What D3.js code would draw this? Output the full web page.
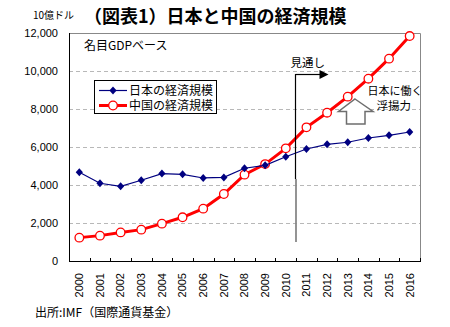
<!DOCTYPE html>
<html>
<head>
<meta charset="utf-8">
<script src="https://cdn.jsdelivr.net/npm/d3@7"></script>
<style>
  html, body { margin: 0; padding: 0; background: #fff; }
  svg { display: block; }
  text { font-family: "Liberation Sans", Arial, sans-serif; }
  .jp { font-family: "Noto Sans CJK JP", sans-serif; }
</style>
</head>
<body>
<svg id="chart" width="450" height="327"></svg>
<script>
// Nominal GDP, billions of US dollars (IMF)
const years = ["2000","2001","2002","2003","2004","2005","2006","2007","2008",
               "2009","2010","2011","2012","2013","2014","2015","2016"];
const japanGdp = [4670, 4090, 3930, 4250, 4600, 4560, 4370, 4400, 4880,
                  5035, 5490, 5895, 6140, 6250, 6475, 6615, 6790];
const chinaGdp = [1230, 1335, 1505, 1650, 1965, 2300, 2755, 3525, 4545,
                  5100, 5930, 7035, 7805, 8650, 9595, 10650, 11840];
const yTicks = [0, 2000, 4000, 6000, 8000, 10000, 12000];
const seriesNames = ["日本の経済規模", "中国の経済規模"];
const lastActual = "2010";

const svg = d3.select("#chart");
const plot = { left: 69, right: 420, top: 33, bottom: 261 };

const x = d3.scaleBand().domain(years).range([plot.left, plot.right]).padding(0);
const y = d3.scaleLinear().domain([0, 12000]).range([plot.bottom, plot.top]);
const cx = d => x(d) + x.bandwidth() / 2;

// horizontal dashed gridlines
svg.append("g").selectAll("line")
  .data(yTicks.filter(v => v > 0 && v < 12000))
  .join("line")
  .attr("x1", plot.left).attr("x2", plot.right)
  .attr("y1", d => y(d) + 0.5).attr("y2", d => y(d) + 0.5)
  .attr("stroke", "#b8b8b8").attr("stroke-dasharray", "4,3");

// top / right frame
svg.append("path")
  .attr("d", `M${plot.left},${plot.top + 0.5}H${plot.right + 0.5}V${plot.bottom}`)
  .attr("fill", "none").attr("stroke", "#888").attr("stroke-width", 1);

// y axis labels
const yAxis = d3.axisLeft(y).tickValues(yTicks).tickSize(0).tickPadding(11)
  .tickFormat(d3.format(","));
const gy = svg.append("g").attr("transform", `translate(${plot.left},0)`).call(yAxis);
gy.select(".domain").remove();
gy.selectAll("text").attr("font-size", 11).attr("fill", "#000")
  .attr("font-family", "Liberation Sans, Arial, sans-serif");

// x axis labels (rotated)
const xAxis = d3.axisBottom(x).tickSize(0);
const gx = svg.append("g").attr("transform", `translate(0,${plot.bottom})`).call(xAxis);
gx.select(".domain").remove();
gx.selectAll("text")
  .attr("font-size", 11).attr("fill", "#000")
  .attr("font-family", "Liberation Sans, Arial, sans-serif")
  .attr("transform", "rotate(-90)")
  .attr("text-anchor", "end")
  .attr("dy", "0.35em")
  .attr("x", -12).attr("y", 0);

// x boundary tick marks (inward)
const bounds = years.map(d => x(d)).concat([plot.right]);
svg.append("g").selectAll("line").data(bounds).join("line")
  .attr("x1", d => Math.round(d) + 0.5).attr("x2", d => Math.round(d) + 0.5)
  .attr("y1", plot.bottom).attr("y2", plot.bottom - 3)
  .attr("stroke", "#000");

// axis lines
svg.append("line").attr("x1", plot.left + 0.5).attr("x2", plot.left + 0.5)
  .attr("y1", plot.top).attr("y2", plot.bottom + 0.5).attr("stroke", "#000");
svg.append("line").attr("x1", plot.left).attr("x2", plot.right + 1)
  .attr("y1", plot.bottom + 0.5).attr("y2", plot.bottom + 0.5).attr("stroke", "#000");

const line = d3.line().x((d, i) => cx(years[i])).y(d => y(d));
const diamond = "M0,-4L3.6,0L0,4L-3.6,0Z";

// China series
svg.append("path").datum(chinaGdp).attr("d", line)
  .attr("fill", "none").attr("stroke", "#ff0000").attr("stroke-width", 3);
svg.append("g").selectAll("circle").data(chinaGdp).join("circle")
  .attr("cx", (d, i) => cx(years[i])).attr("cy", d => y(d)).attr("r", 4.3)
  .attr("fill", "#fff").attr("stroke", "#ff0000").attr("stroke-width", 1.3);

// Japan series
svg.append("path").datum(japanGdp).attr("d", line)
  .attr("fill", "none").attr("stroke", "#000080").attr("stroke-width", 1.2);
svg.append("g").selectAll("path").data(japanGdp).join("path")
  .attr("d", diamond)
  .attr("transform", (d, i) => `translate(${cx(years[i])},${y(d)})`)
  .attr("fill", "#000080");

// legend
const lg = svg.append("g");
lg.append("rect").attr("x", 94.5).attr("y", 80.5).attr("width", 122).attr("height", 33)
  .attr("fill", "#fff").attr("stroke", "#000");
lg.append("line").attr("x1", 99).attr("x2", 127).attr("y1", 90.5).attr("y2", 90.5)
  .attr("stroke", "#000080").attr("stroke-width", 1.2);
lg.append("path").attr("d", diamond).attr("transform", "translate(113,90.5)").attr("fill", "#000080");
lg.append("line").attr("x1", 99).attr("x2", 127).attr("y1", 105.5).attr("y2", 105.5)
  .attr("stroke", "#ff0000").attr("stroke-width", 3);
lg.append("circle").attr("cx", 113).attr("cy", 105.5).attr("r", 4.3)
  .attr("fill", "#fff").attr("stroke", "#ff0000").attr("stroke-width", 1.3);
lg.selectAll("text.lab").data(seriesNames).join("text")
  .attr("class", "jp lab")
  .attr("x", 129).attr("y", (d, i) => 90.5 + i * 15).attr("dy", "0.36em")
  .attr("font-size", 12).text(d => d);

// forecast marker at the end of the last actual year
const fx = Math.round(x(lastActual) + x.bandwidth()) - 0.5;
svg.append("line").attr("x1", fx).attr("x2", fx).attr("y1", 74).attr("y2", 179)
  .attr("stroke", "#000").attr("stroke-width", 1.2);
svg.append("line").attr("x1", fx + 0.5).attr("x2", fx + 0.5).attr("y1", 179).attr("y2", 242)
  .attr("stroke", "#888").attr("stroke-width", 1.8);
svg.append("line").attr("x1", fx).attr("x2", fx + 26).attr("y1", 74.5).attr("y2", 74.5)
  .attr("stroke", "#000").attr("stroke-width", 1.2);
svg.append("path").attr("d", `M${fx + 33},74.5L${fx + 24},70L${fx + 24},79Z`).attr("fill", "#000");
svg.append("text").attr("class", "jp").attr("x", 290.5).attr("y", 63).attr("dy", "0.36em")
  .attr("font-size", 11.5).text("見通し");

// upward outline arrow
svg.append("path")
  .attr("d", "M355,99L373,111.5H365V124H346.5V111.5H338.5Z")
  .attr("fill", "#fff").attr("stroke", "#6e6e6e").attr("stroke-width", 1.5)
  .attr("stroke-linejoin", "miter");
svg.append("text").attr("class", "jp").attr("x", 367.5).attr("y", 91).attr("dy", "0.36em")
  .attr("font-size", 11).text("日本に働く");
svg.append("text").attr("class", "jp").attr("x", 376.5).attr("y", 106).attr("dy", "0.36em")
  .attr("font-size", 11.5).text("浮揚力");

// titles and notes
svg.append("text").attr("class", "jp").attr("x", 33).attr("y", 15).attr("dy", "0.36em")
  .attr("font-size", 10).text("10億ドル");
svg.append("text").attr("class", "jp").attr("x", 84).attr("y", 17).attr("dy", "0.36em")
  .attr("font-size", 18).attr("font-weight", "bold").text("（図表1）日本と中国の経済規模");
svg.append("text").attr("class", "jp").attr("x", 84).attr("y", 46).attr("dy", "0.36em")
  .attr("font-size", 12).text("名目GDPベース");
svg.append("text").attr("class", "jp").attr("x", 35).attr("y", 313).attr("dy", "0.36em")
  .attr("font-size", 12).text("出所:IMF（国際通貨基金）");
</script>
</body>
</html>
